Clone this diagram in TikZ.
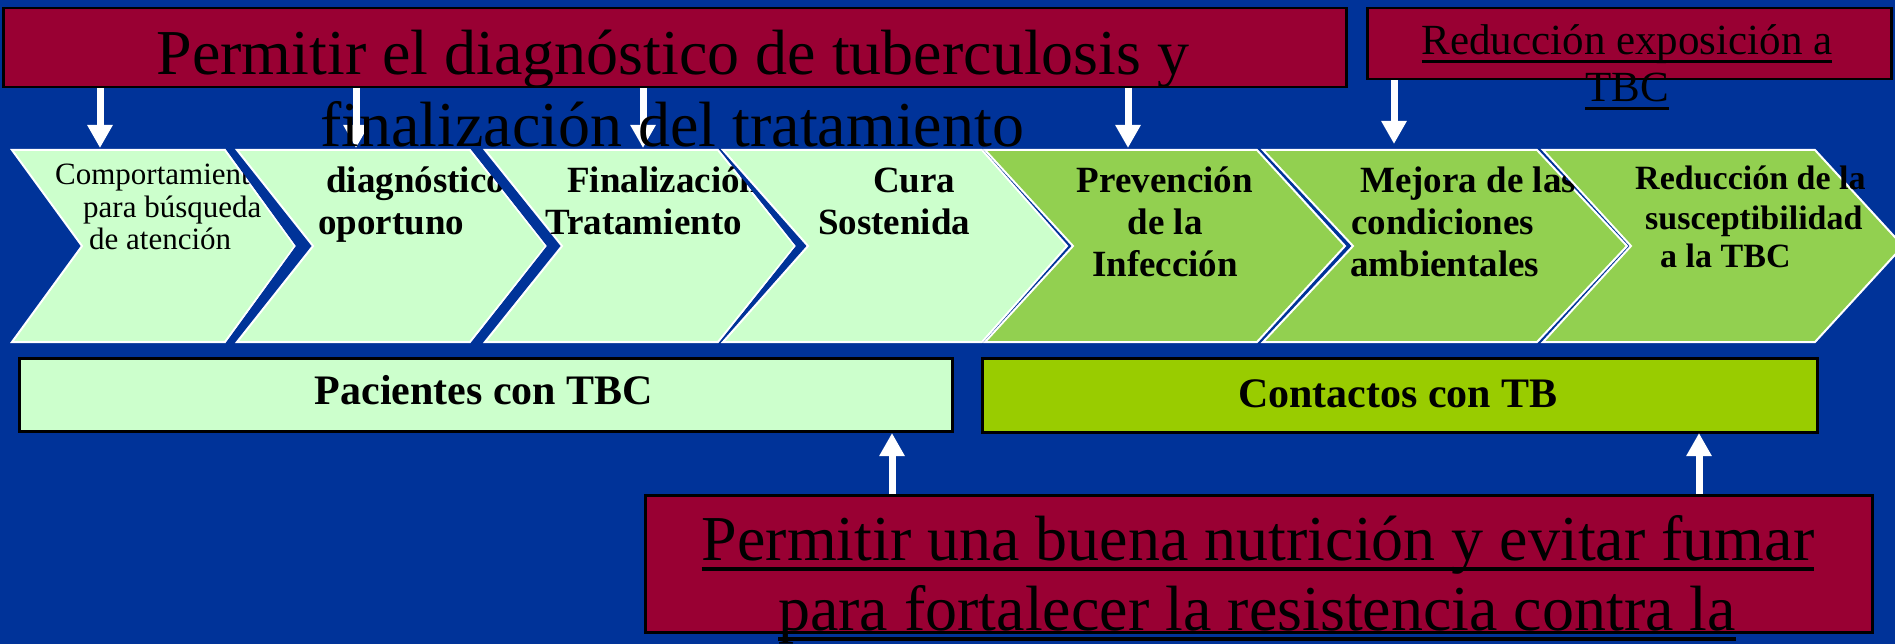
\documentclass[tikz,border=0pt]{standalone}
\usepackage{fontspec}
\setmainfont{Liberation Serif}
\usetikzlibrary{arrows.meta}
\definecolor{bgblue}{RGB}{0,51,153}
\definecolor{banred}{RGB}{153,0,51}
\definecolor{lgreen}{RGB}{204,255,204}
\definecolor{mgreen}{RGB}{146,208,80}
\definecolor{ygreen}{RGB}{153,204,0}
\newcommand{\mkchev}[4]{\fill[#4] (#1,150) -- (#2,150) -- (#2+#3,246) -- (#2,342) -- (#1,342) -- (#1+#3,246) -- cycle;
  \draw[white,line width=2pt,line join=miter] (#1,150) -- (#2,150) -- (#2+#3,246) -- (#2,342) -- (#1,342) -- (#1+#3,246) -- cycle;}
% blue band between two neighbouring chevrons (covers overflowing text)
\newcommand{\mkgap}[4]{\fill[bgblue] (#1,149) -- (#1+#2,246) -- (#1,343) -- (#3,343) -- (#3+#4,246) -- (#3,149) -- cycle;}
\newsavebox{\myulbox}
\newcommand{\myul}[3]{\sbox{\myulbox}{#3}\rlap{\usebox{\myulbox}}\rule[-\dimexpr#1+#2\relax]{\wd\myulbox}{#2}}
\tikzset{
  box/.style={draw=black, line width=2.5pt, inner sep=0pt, anchor=north west},
  banner/.style={box, fill=banred},
  bigtxt/.style={inner sep=0pt, anchor=base, text=black, font=\fontsize{64}{70}\selectfont},
  midtxt/.style={inner sep=0pt, anchor=base, text=black, font=\fontsize{43}{47}\selectfont},
  boxtxt/.style={inner sep=0pt, anchor=base, text=black, font=\bfseries\fontsize{42}{46}\selectfont},
  ctxt/.style={inner sep=0pt, anchor=base west, text=black, font=\bfseries\fontsize{37}{42}\selectfont},
  ctxtc/.style={ctxt, anchor=base},
  csmall/.style={ctxt, font=\bfseries\fontsize{34}{39}\selectfont},
  creg/.style={ctxt, font=\fontsize{31}{33}\selectfont},
  warr/.style={draw=white, line width=7pt, -{Triangle[width=24pt,length=23pt]}}
}
\begin{document}
\begin{tikzpicture}[x=1pt,y=-1pt]
\useasboundingbox (0,0) rectangle (1895,644);
\clip (0,0) rectangle (1895,644);
\fill[bgblue] (0,0) rectangle (1895,644);

% chevrons with their texts
\mkchev{12}{225}{70}{lgreen}
\node[creg] (c1a) at (55,185) {Comportamiento};
\node[creg] (c1b) at (83,218) {para búsqueda};
\node[creg] (c1c) at (89,250) {de atención};
\mkgap{226}{70}{237}{76}

\mkchev{237}{470}{76}{lgreen}
\node[ctxt] (c2a) at (326,193) {diagnóstico};
\node[ctxt] (c2b) at (318,235) {oportuno};
\mkgap{471}{76}{485}{77}

\mkchev{485}{718}{77}{lgreen}
\node[ctxt] (c3a) at (567,193) {Finalización};
\node[ctxt] (c3b) at (545,235) {Tratamiento};
\mkgap{719}{77}{723}{85}

\mkchev{723}{982}{85}{lgreen}
\node[ctxt] (c4a) at (873,193) {Cura};
\node[ctxt] (c4b) at (818,235) {Sostenida};

\mkchev{985}{1257}{88}{mgreen}
\node[ctxtc] (c5a) at (1165,193) {Prevención};
\node[ctxtc] (c5b) at (1165,235) {de la};
\node[ctxtc] (c5c) at (1165,277) {Infección};

\mkchev{1263}{1537}{90}{mgreen}
\node[ctxt] (c6a) at (1360,193) {Mejora de las};
\node[ctxt] (c6b) at (1351,235) {condiciones};
\node[ctxt] (c6c) at (1350,277) {ambientales};

\mkchev{1543}{1815}{88}{mgreen}
\node[csmall] (c7a) at (1635,190) {Reducción de la};
\node[csmall] (c7b) at (1645,230) {susceptibilidad};
\node[csmall] (c7c) at (1660,268) {a la TBC};

% group boxes
\node[box, fill=lgreen, minimum width=933pt, minimum height=73pt] (pac) at (18,357) {};
\node[boxtxt] (pact) at (484,404) {Pacientes con TBC};
\node[box, fill=ygreen, minimum width=835pt, minimum height=74pt] (con) at (981,357) {};
\node[boxtxt] (cont) at (1398,407) {Contactos con TB};

% banners
\node[banner, minimum width=1343pt, minimum height=79pt] (ban1) at (2,7) {};
\node[banner, minimum width=524pt, minimum height=71pt] (ban2) at (1366,7) {};
\node[banner, minimum width=1227pt, minimum height=137pt] (ban3) at (644,494) {};

% arrow end points
\coordinate (a1) at (100,148);
\coordinate (a2) at (356,148);
\coordinate (a3) at (643,148);
\coordinate (a4) at (1128,148);
\coordinate (a5) at (1394,144);
\coordinate (b1) at (892,433);
\coordinate (b2) at (1699,433);
\draw[warr] (a1 |- ban1.south) -- (a1);
\draw[warr] (a2 |- ban1.south) -- (a2);
\draw[warr] (a3 |- ban1.south) -- (a3);
\draw[warr] (a4 |- ban1.south) -- (a4);
\draw[warr] (a5 |- ban2.south) -- (a5);
\draw[warr] (b1 |- ban3.north) -- (b1);
\draw[warr] (b2 |- ban3.north) -- (b2);

% banner texts
\node[bigtxt] (t1a) at (673,75) {Permitir el diagnóstico de tuberculosis y};
\node[bigtxt] (t1b) at (672,147) {finalización del tratamiento};
\node[midtxt] (t2a) at (1627,55) {\myul{5pt}{3pt}{Reducción exposición a}};
\node[midtxt] (t2b) at (1627,102) {\myul{5pt}{3pt}{TBC}};
\node[bigtxt] (t3a) at (1258,560) {\myul{7pt}{4pt}{Permitir una buena nutrición y evitar fumar}};
\node[bigtxt] (t3b) at (1257,630) {\myul{7pt}{4pt}{para fortalecer la resistencia contra la}};
\end{tikzpicture}
\end{document}
